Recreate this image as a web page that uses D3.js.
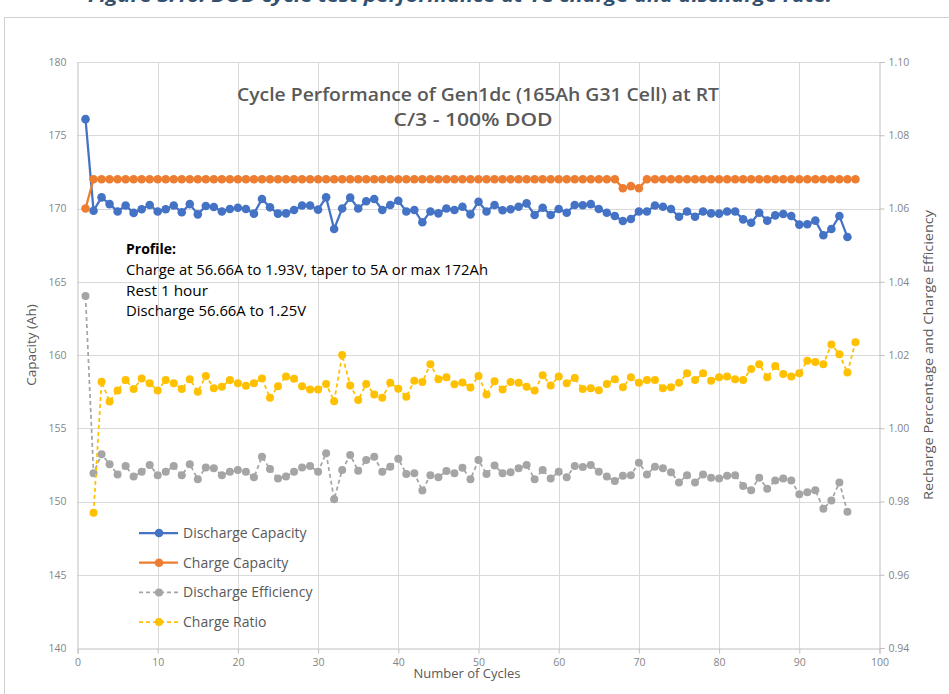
<!DOCTYPE html>
<html>
<head>
<meta charset="utf-8">
<script src="https://cdn.jsdelivr.net/npm/d3@7"></script>
<style>
  body { margin: 0; background: #fff; }
  svg { display: block; font-family: "Open Sans", "Liberation Sans", sans-serif; }
</style>
</head>
<body>
<svg id="chart" width="949" height="694"></svg>
<script>
// values
const dischargeCapacity = [ // cycles 1..96, Ah
  176.1, 169.85, 170.76, 170.3, 169.8, 170.2, 169.7, 169.95, 170.24, 169.8,
  169.95, 170.2, 169.74, 170.3, 169.6, 170.17, 170.1, 169.8, 169.97, 170.05,
  169.97, 169.65, 170.65, 170.08, 169.65, 169.67, 169.9, 170.2, 170.2, 169.92,
  170.76, 168.6, 170.0, 170.74, 170.0, 170.5, 170.65, 169.9, 170.24, 170.53,
  169.8, 169.9, 169.06, 169.8, 169.67, 170.0, 169.9, 170.12, 169.6, 170.46,
  169.8, 170.24, 169.88, 169.95, 170.12, 170.35, 169.56, 170.05, 169.56, 169.97,
  169.71, 170.24, 170.22, 170.3, 169.97, 169.71, 169.49, 169.15, 169.28, 169.8,
  169.8, 170.2, 170.12, 169.97, 169.44, 169.8, 169.44, 169.8, 169.67, 169.65,
  169.8, 169.8, 169.26, 169.03, 169.71, 169.17, 169.53, 169.62, 169.49, 168.9,
  168.92, 169.17, 168.17, 168.6, 169.49, 168.05
];
const chargeCapacity = [ // cycles 1..97, Ah
  170.0, 172.0, 172.0, 172.0, 172.0, 172.0, 172.0, 172.0, 172.0, 172.0,
  172.0, 172.0, 172.0, 172.0, 172.0, 172.0, 172.0, 172.0, 172.0, 172.0,
  172.0, 172.0, 172.0, 172.0, 172.0, 172.0, 172.0, 172.0, 172.0, 172.0,
  172.0, 172.0, 172.0, 172.0, 172.0, 172.0, 172.0, 172.0, 172.0, 172.0,
  172.0, 172.0, 172.0, 172.0, 172.0, 172.0, 172.0, 172.0, 172.0, 172.0,
  172.0, 172.0, 172.0, 172.0, 172.0, 172.0, 172.0, 172.0, 172.0, 172.0,
  172.0, 172.0, 172.0, 172.0, 172.0, 172.0, 172.0, 171.38, 171.53, 171.38,
  172.0, 172.0, 172.0, 172.0, 172.0, 172.0, 172.0, 172.0, 172.0, 172.0,
  172.0, 172.0, 172.0, 172.0, 172.0, 172.0, 172.0, 172.0, 172.0, 172.0,
  172.0, 172.0, 172.0, 172.0, 172.0, 172.0, 172.0
];
const dischargeEfficiency = [ // cycles 1..96
  1.0361, 0.9877, 0.9929, 0.9902, 0.9874, 0.9897, 0.9868, 0.9881, 0.9900, 0.9872,
  0.9881, 0.9897, 0.9872, 0.9902, 0.9861, 0.9893, 0.9891, 0.9872, 0.9881, 0.9886,
  0.9881, 0.9866, 0.9922, 0.9889, 0.9863, 0.9868, 0.9881, 0.9893, 0.9897, 0.9881,
  0.9932, 0.9806, 0.9886, 0.9927, 0.9884, 0.9913, 0.9922, 0.9881, 0.9895, 0.9917,
  0.9875, 0.9877, 0.9830, 0.9872, 0.9866, 0.9883, 0.9877, 0.9892, 0.9861, 0.9913,
  0.9875, 0.9898, 0.9877, 0.9880, 0.9891, 0.9900, 0.9861, 0.9886, 0.9863, 0.9881,
  0.9866, 0.9897, 0.9894, 0.9900, 0.9881, 0.9868, 0.9856, 0.9870, 0.9872, 0.9906,
  0.9874, 0.9895, 0.9891, 0.9880, 0.9852, 0.9872, 0.9852, 0.9874, 0.9865, 0.9863,
  0.9870, 0.9872, 0.9842, 0.9831, 0.9865, 0.9835, 0.9857, 0.9863, 0.9857, 0.9820,
  0.9825, 0.9831, 0.9780, 0.9803, 0.9852, 0.9772
];
const chargeRatio = [ // cycles 2..97
  0.9769, 1.0127, 1.0073, 1.0103, 1.0132, 1.0107, 1.0136, 1.0123, 1.0103, 1.0132,
  1.0123, 1.0107, 1.0134, 1.0100, 1.0143, 1.0109, 1.0113, 1.0132, 1.0123, 1.0116,
  1.0123, 1.0136, 1.0083, 1.0115, 1.0141, 1.0135, 1.0115, 1.0106, 1.0106, 1.0121,
  1.0074, 1.0200, 1.0117, 1.0077, 1.0121, 1.0092, 1.0083, 1.0124, 1.0108, 1.0086,
  1.0130, 1.0126, 1.0175, 1.0134, 1.0139, 1.0120, 1.0125, 1.0111, 1.0143, 1.0092,
  1.0128, 1.0106, 1.0126, 1.0124, 1.0113, 1.0103, 1.0145, 1.0117, 1.0141, 1.0123,
  1.0137, 1.0107, 1.0109, 1.0104, 1.0121, 1.0134, 1.0112, 1.0139, 1.0124, 1.0132,
  1.0132, 1.0109, 1.0112, 1.0124, 1.0150, 1.0132, 1.0150, 1.0130, 1.0139, 1.0141,
  1.0134, 1.0132, 1.0162, 1.0175, 1.0139, 1.0170, 1.0148, 1.0141, 1.0150, 1.0184,
  1.0181, 1.0175, 1.0229, 1.0202, 1.0152, 1.0235
];
const xTicks = [0, 10, 20, 30, 40, 50, 60, 70, 80, 90, 100];
const leftTicks = [140, 145, 150, 155, 160, 165, 170, 175, 180];
const rightTicks = [0.94, 0.96, 0.98, 1.00, 1.02, 1.04, 1.06, 1.08, 1.10];
const profileLines = [
  "Charge at 56.66A to 1.93V, taper to 5A or max 172Ah",
  "Rest 1 hour",
  "Discharge 56.66A to 1.25V"
];

const svg = d3.select("#chart");
const grid = "#d9d9d9", tickText = "#858585", labelText = "#595959";

const x = d3.scaleLinear().domain([0, 100]).range([77.5, 879.5]);
const yL = d3.scaleLinear().domain([140, 180]).range([648, 62]);
const yR = d3.scaleLinear().domain([0.94, 1.10]).range([648, 62]);

// outer frame and cut-off caption at the very top
svg.append("rect").attr("x", 4.5).attr("y", 17.5).attr("width", 1000).attr("height", 1000)
  .attr("fill", "none").attr("stroke", "#d0d0d0");
svg.append("text").attr("x", 460).attr("y", 2).attr("text-anchor", "middle")
  .attr("font-size", 17).attr("font-weight", "bold").attr("font-style", "italic")
  .attr("fill", "#34506f").attr("textLength", 744).attr("lengthAdjust", "spacingAndGlyphs")
  .text("Figure 3.10: DOD cycle test performance at 1C charge and discharge rate.");

// gridlines
svg.append("g").selectAll("line").data(leftTicks.slice(1)).join("line")
  .attr("x1", x(0)).attr("x2", x(100))
  .attr("y1", d => Math.round(yL(d)) + 0.5).attr("y2", d => Math.round(yL(d)) + 0.5)
  .attr("stroke", grid);
svg.append("g").selectAll("line").data(xTicks.slice(1, -1)).join("line")
  .attr("x1", d => Math.round(x(d)) + 0.5).attr("x2", d => Math.round(x(d)) + 0.5)
  .attr("y1", yL(180)).attr("y2", yL(140))
  .attr("stroke", grid);

// axes
const bottom = svg.append("g").attr("transform", `translate(0,${yL(140) + 0.5})`)
  .call(d3.axisBottom(x).tickValues(xTicks).tickSize(5).tickPadding(5));
const left = svg.append("g").attr("transform", `translate(${x(0)},0)`)
  .call(d3.axisLeft(yL).tickValues(leftTicks).tickSize(0).tickPadding(11));
const right = svg.append("g").attr("transform", `translate(${x(100)},0)`)
  .call(d3.axisRight(yR).tickValues(rightTicks).tickSize(5).tickPadding(4).tickFormat(d3.format(".2f")));
[bottom, left, right].forEach(g => {
  g.selectAll(".domain").attr("stroke", "#bfbfbf");
  g.selectAll(".tick line").attr("stroke", "#bfbfbf");
  g.selectAll("text").attr("fill", tickText).attr("font-size", 10.5).attr("font-family", "Open Sans, sans-serif");
});

// axis titles
svg.append("text").attr("x", 467).attr("y", 678).attr("text-anchor", "middle")
  .attr("font-size", 13).attr("fill", labelText).text("Number of Cycles");
svg.append("text").attr("transform", "translate(36,345) rotate(-90)").attr("text-anchor", "middle")
  .attr("font-size", 13.5).attr("fill", labelText).text("Capacity (Ah)");
svg.append("text").attr("transform", "translate(933,355) rotate(-90)").attr("text-anchor", "middle")
  .attr("font-size", 13).attr("fill", labelText)
  .attr("textLength", 290).attr("lengthAdjust", "spacingAndGlyphs")
  .text("Recharge Percentage and Charge Efficiency");

// chart title
svg.append("text").attr("x", 478).attr("y", 101).attr("text-anchor", "middle")
  .attr("font-size", 18).attr("font-weight", 600).attr("fill", labelText)
  .attr("textLength", 482).attr("lengthAdjust", "spacingAndGlyphs")
  .text("Cycle Performance of Gen1dc (165Ah G31 Cell) at RT");
svg.append("text").attr("x", 473).attr("y", 126).attr("text-anchor", "middle")
  .attr("font-size", 18).attr("font-weight", 600).attr("fill", labelText)
  .attr("textLength", 159).attr("lengthAdjust", "spacingAndGlyphs")
  .text("C/3 - 100% DOD");

// profile note
svg.append("text").attr("x", 126).attr("y", 254).attr("font-size", 14).attr("font-weight", "bold")
  .attr("fill", "#000").text("Profile:");
svg.append("g").selectAll("text").data(profileLines).join("text")
  .attr("x", 126).attr("y", (d, i) => 275 + i * 20.5).attr("font-size", 14).attr("fill", "#000")
  .attr("textLength", (d, i) => [362, 82, 180][i]).attr("lengthAdjust", "spacingAndGlyphs")
  .text(d => d);

// series
const series = [
  { name: "Discharge Capacity", color: "#4472c4", dash: null, width: 2.25, r: 4.3, y: yL,
    pts: dischargeCapacity.map((v, i) => [i + 1, v]) },
  { name: "Charge Capacity", color: "#ed7d31", dash: null, width: 2.25, r: 4.3, y: yL,
    pts: chargeCapacity.map((v, i) => [i + 1, v]) },
  { name: "Discharge Efficiency", color: "#a5a5a5", dash: "4,3", width: 1.75, r: 4, y: yR,
    pts: dischargeEfficiency.map((v, i) => [i + 1, v]) },
  { name: "Charge Ratio", color: "#ffc000", dash: "4,3", width: 1.75, r: 4, y: yR,
    pts: chargeRatio.map((v, i) => [i + 2, v]) }
];

series.forEach(s => {
  const line = d3.line().x(d => x(d[0])).y(d => s.y(d[1]));
  const g = svg.append("g");
  g.append("path").datum(s.pts).attr("fill", "none").attr("stroke", s.color)
    .attr("stroke-width", s.width).attr("stroke-dasharray", s.dash).attr("d", line);
  g.selectAll("circle").data(s.pts).join("circle")
    .attr("cx", d => x(d[0])).attr("cy", d => s.y(d[1])).attr("r", s.r).attr("fill", s.color);
});

// legend
const legend = svg.append("g").selectAll("g").data(series).join("g")
  .attr("transform", (d, i) => `translate(139,${533 + i * 29.7})`);
legend.append("line").attr("x1", 0).attr("x2", 39).attr("stroke", d => d.color)
  .attr("stroke-width", d => d.width).attr("stroke-dasharray", d => d.dash);
legend.append("circle").attr("cx", 20).attr("r", d => d.r).attr("fill", d => d.color);
legend.append("text").attr("x", 44).attr("y", 5).attr("font-size", 14).attr("fill", labelText)
  .text(d => d.name);
</script>
</body>
</html>
